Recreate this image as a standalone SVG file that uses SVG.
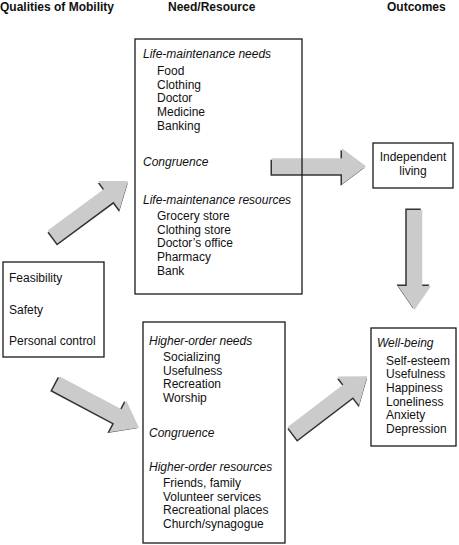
<svg xmlns="http://www.w3.org/2000/svg" xmlns:xlink="http://www.w3.org/1999/xlink" width="459" height="545" viewBox="0 0 459 545">
<style>
text{font-family:"Liberation Sans",Arial,sans-serif;font-size:12px;fill:#111}
.h{font-weight:bold}
.i{font-style:italic}
.box{fill:#fff;stroke:#1a1a1a;stroke-width:1.3}
</style>
<defs>
<path id="sh" d="M0,-8 H70 V-18 L94,0 L70,18 V8 H0 Z"/>
<path id="shl" d="M0,-7.75 H76 V-16.5 L100,0 L76,16.5 V7.75 H0 Z"/>
<g id="arr"><use xlink:href="#sh" href="#sh" fill="#333" transform="translate(-1.5,1.5)"/><use xlink:href="#sh" href="#sh" fill="#cbcbcb"/></g>
<g id="arrl"><use xlink:href="#shl" href="#shl" fill="#333" transform="translate(-1.5,1.5)"/><use xlink:href="#shl" href="#shl" fill="#cbcbcb"/></g>
</defs>
<rect width="459" height="545" fill="#fff"/>
<g id="headers">
<text class="h" x="0" y="11">Qualities of Mobility</text>
<text class="h" x="168" y="11">Need/Resource</text>
<text class="h" x="387" y="11">Outcomes</text>
</g>
<g id="connectors">
<use xlink:href="#arr" href="#arr" transform="translate(52.5,237) rotate(-36.5)"/>
<use xlink:href="#arr" href="#arr" transform="translate(272,166.3)"/>
<use xlink:href="#arrl" href="#arrl" transform="translate(414.5,210) rotate(90)"/>
<use xlink:href="#arr" href="#arr" transform="translate(56,383.5) rotate(28)"/>
<use xlink:href="#arr" href="#arr" transform="translate(292.5,433.3) rotate(-37.3)"/>
</g>
<g id="life-maintenance">
<rect class="box" x="135" y="39" width="167" height="255" fill-opacity="0"/>
<text class="i" x="143" y="58">Life-maintenance needs</text>
<text x="157" y="75">Food</text>
<text x="157" y="88.7">Clothing</text>
<text x="157" y="102.4">Doctor</text>
<text x="157" y="116.1">Medicine</text>
<text x="157" y="129.8">Banking</text>
<text class="i" x="143" y="166">Congruence</text>
<text class="i" x="143" y="204">Life-maintenance resources</text>
<text x="157" y="220">Grocery store</text>
<text x="157" y="233.7">Clothing store</text>
<text x="157" y="247.4">Doctor’s office</text>
<text x="157" y="261.1">Pharmacy</text>
<text x="157" y="274.8">Bank</text>
</g>
<g id="independent-living">
<rect class="box" x="373" y="143" width="80" height="45"/>
<text x="413" y="161" text-anchor="middle">Independent</text>
<text x="413" y="175" text-anchor="middle">living</text>
</g>
<g id="qualities">
<rect class="box" x="3" y="262" width="101" height="95"/>
<text x="9" y="282">Feasibility</text>
<text x="9" y="314">Safety</text>
<text x="9" y="345">Personal control</text>
</g>
<g id="higher-order">
<rect class="box" x="143" y="322" width="142" height="221"/>
<text class="i" x="149" y="345">Higher-order needs</text>
<text x="163" y="361">Socializing</text>
<text x="163" y="374.7">Usefulness</text>
<text x="163" y="388.4">Recreation</text>
<text x="163" y="402.1">Worship</text>
<text class="i" x="149" y="437">Congruence</text>
<text class="i" x="149" y="471">Higher-order resources</text>
<text x="163" y="487">Friends, family</text>
<text x="163" y="500.7">Volunteer services</text>
<text x="163" y="514.4">Recreational places</text>
<text x="163" y="528.1">Church/synagogue</text>
</g>
<g id="well-being">
<rect class="box" x="371" y="328" width="85" height="118"/>
<text class="i" x="377" y="347">Well-being</text>
<text x="386" y="364.5">Self-esteem</text>
<text x="386" y="378.2">Usefulness</text>
<text x="386" y="391.9">Happiness</text>
<text x="386" y="405.6">Loneliness</text>
<text x="386" y="419.3">Anxiety</text>
<text x="386" y="433">Depression</text>
</g>
</svg>
